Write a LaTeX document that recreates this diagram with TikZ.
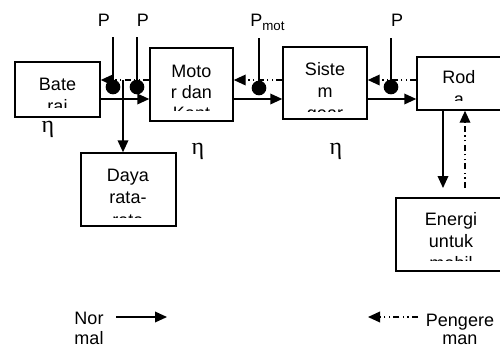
\documentclass[tikz,border=0pt]{standalone}
\usepackage{fontspec}
\setmainfont{Liberation Sans}
\newfontfamily\etafont{Liberation Serif}
\usetikzlibrary{arrows.meta}
\tikzset{
  blk/.style={draw, line width=1.1pt, inner sep=0pt, rectangle},
  txt/.style={inner sep=0pt, anchor=base, font=\fontsize{13.5}{16}\selectfont},
  etalbl/.style={inner sep=0pt, anchor=center, font=\etafont\fontsize{18}{20}\selectfont},
  fwd/.style={line width=1.1pt, -{Triangle[length=9pt,width=8pt]}},
  rev/.style={line width=1.1pt, dash pattern=on 4.5pt off 2.5pt on 1pt off 2.5pt on 1pt off 2.5pt, -{Triangle[length=9pt,width=8pt]}},
  plain/.style={line width=1.1pt},
  jdot/.style={circle, fill, inner sep=0pt, minimum size=11pt},
}
\begin{document}
\begin{tikzpicture}[x=0.75pt,y=-0.75pt]
\useasboundingbox (0,0) rectangle (500,347);
% boxes
\node[blk, minimum width=63.75pt, minimum height=41.25pt] (bat) at (57.5,89.5) {};
\node[blk, minimum width=62.25pt, minimum height=54.75pt] (mot) at (191.5,84.5) {};
\node[blk, minimum width=63pt, minimum height=54pt] (sis) at (325,83) {};
\node[blk, minimum width=63pt, minimum height=39.75pt] (rod) at (459,83.5) {};
\node[blk, minimum width=71.25pt, minimum height=54.75pt] (day) at (128.5,189.5) {};
\node[blk, minimum width=82.5pt, minimum height=54.75pt] (ene) at (451,234.5) {};
% box texts (clipped)
\begin{scope}
\clip (15,62) rectangle (100,107);
\node[txt] (bat1) at (57.5,90) {Bate};
\node[txt] (bat2) at (57.5,112) {rai};
\end{scope}
\begin{scope}
\clip (150,48) rectangle (233,110.5);
\node[txt] (mot1) at (191.5,77) {Moto};
\node[txt] (mot2) at (191.5,98) {r dan};
\node[txt] (mot3) at (191.5,119) {Kont};
\end{scope}
\begin{scope}
\clip (283,47) rectangle (367,111);
\node[txt] (sis1) at (325,75) {Siste};
\node[txt] (sis2) at (325,97) {m};
\node[txt] (sis3) at (325,119) {gear};
\end{scope}
\begin{scope}
\clip (417,57) rectangle (501,100);
\node[txt] (rod1) at (459,83) {Rod};
\node[txt] (rod2) at (459,105) {a};
\end{scope}
\begin{scope}
\clip (81,153) rectangle (176,217);
\node[txt] (day1) at (128,181) {Daya};
\node[txt] (day2) at (128,203) {rata-};
\node[txt] (day3) at (128,226) {rata};
\end{scope}
\begin{scope}
\clip (396,198) rectangle (506,260.5);
\node[txt] (ene1) at (451,225) {Energi};
\node[txt] (ene2) at (451,247) {untuk};
\node[txt] (ene3) at (451,269) {mobil};
\end{scope}
% levels
\coordinate (yf) at (0,99);
\coordinate (yr) at (0,80);
% forward arrows
\draw[fwd] (bat.east |- yf) -- (mot.west |- yf);
\draw[fwd] (mot.east |- yf) -- (sis.west |- yf);
\draw[fwd] (sis.east |- yf) -- (rod.west |- yf);
% reverse arrows
\draw[rev] (mot.west |- yr) -- (bat.east |- yr);
\draw[rev] (sis.west |- yr) -- (mot.east |- yr);
\draw[rev] (rod.west |- yr) -- (sis.east |- yr);
% junction dots and power taps
\node[jdot] (d1) at (113,87) {};
\node[jdot] (d2) at (137,87) {};
\node[jdot] (d3) at (259,88) {};
\node[jdot] (d4) at (391,87) {};
\coordinate (t1) at (113,37);
\coordinate (t2) at (137,37);
\coordinate (t3) at (259,38);
\coordinate (t4) at (391,38);
\draw[plain] (t1) -- (d1.center);
\draw[plain] (t2) -- (d2.center);
\draw[plain] (t3) -- (d3.center);
\draw[plain] (t4) -- (d4.center);
% P labels
\node[txt] (p1) at (104,26) {P};
\node[txt] (p2) at (143,26) {P};
\node[txt, anchor=base west] (p3) at (250,26) {P\raisebox{-3pt}{\fontsize{10}{12}\selectfont mot}};
\node[txt] (p4) at (397,26) {P};
% to Daya
\coordinate (j1) at (123,80);
\draw[fwd] (j1) -- (j1 |- day.north);
% Roda <-> Energi
\coordinate (e1) at (443,188);
\coordinate (e2) at (465,188);
\draw[fwd] (rod.south -| e1) -- (e1);
\draw[rev] (e2) -- (rod.south -| e2);
% eta
\node[etalbl] (eta1) at (48,129) {η};
\node[etalbl] (eta2) at (198,151) {η};
\node[etalbl] (eta3) at (336,151) {η};
% legend
\node[txt] (nor1) at (89,324) {Nor};
\node[txt] (nor2) at (89,344) {mal};
\coordinate (l1) at (116,317);
\coordinate (l2) at (167,317);
\draw[fwd] (l1) -- (l2);
\node[txt] (pen1) at (460,326) {Pengere};
\node[txt] (pen2) at (460,344) {man};
\coordinate (l3) at (418,317);
\coordinate (l4) at (368,317);
\draw[rev] (l3) -- (l4);
\end{tikzpicture}
\end{document}
